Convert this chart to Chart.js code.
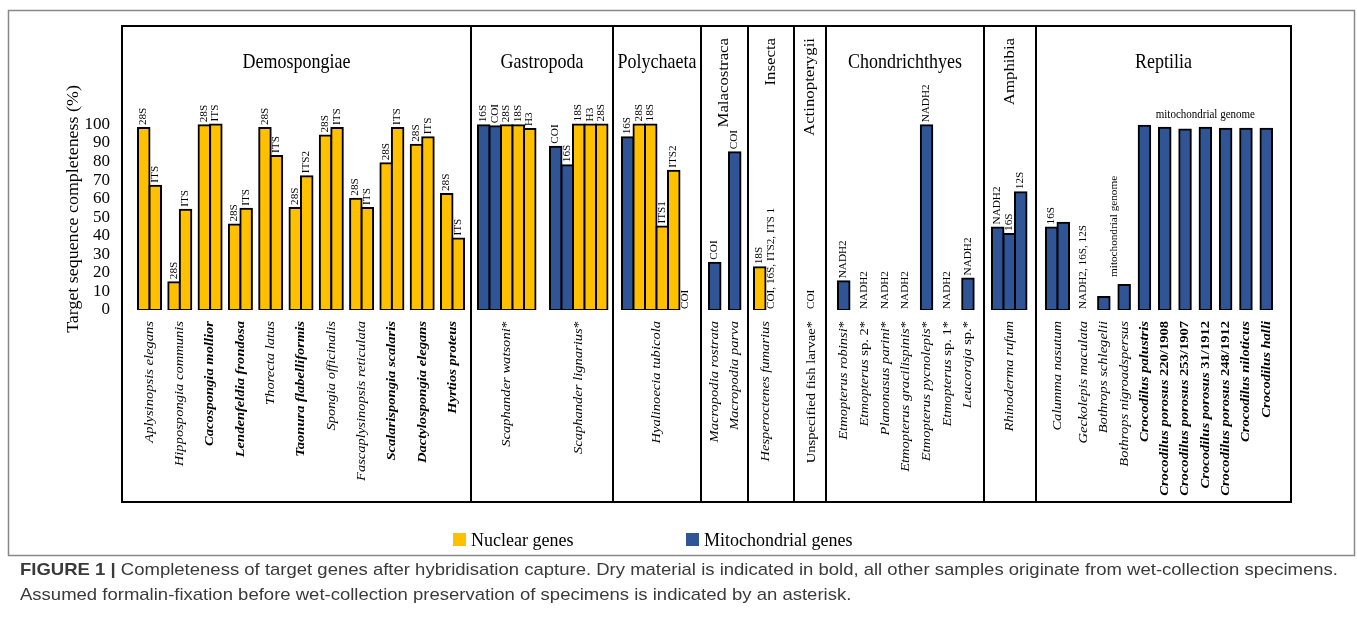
<!DOCTYPE html>
<html>
<head>
<meta charset="utf-8">
<script src="https://cdn.jsdelivr.net/npm/chart.js@4.4.1/dist/chart.umd.min.js"></script>
<style>
  html, body { margin: 0; padding: 0; background: #fff; }
  #wrap { width: 1357px; height: 635px; position: relative; }
</style>
</head>
<body>
<div id="wrap"><canvas id="fig" width="1357" height="635"></canvas></div>
<script>
const NUCLEAR = '#FFC000';
const MITO = '#2F5597';

const yTicks = [0, 10, 20, 30, 40, 50, 60, 70, 80, 90, 100];

const groupNames = ['Demospongiae', 'Gastropoda', 'Polychaeta', 'Malacostraca', 'Insecta',
  'Actinopterygii', 'Chondrichthyes', 'Amphibia', 'Reptilia'];

const speciesNames = [
  'Aplysinopsis elegans', 'Hippospongia communis', 'Cacospongia mollior', 'Lendenfeldia frondosa',
  'Thorecta latus', 'Taonura flabelliformis', 'Spongia officinalis', 'Fascaplysinopsis reticulata',
  'Scalarispongia scalaris', 'Dactylospongia elegans', 'Hyrtios proteus',
  'Scaphander watsoni', 'Scaphander lignarius',
  'Hyalinoecia tubicola',
  'Macropodia rostrata', 'Macropodia parva',
  'Hesperoctenes fumarius',
  'Unspecified fish larvae',
  'Etmopterus robinsi', 'Etmopterus sp. 2', 'Planonasus parini', 'Etmopterus gracilispinis',
  'Etmopterus pycnolepis', 'Etmopterus sp. 1', 'Leucoraja sp.',
  'Rhinoderma rufum',
  'Calumma nasutum', 'Geckolepis maculata', 'Bothrops schlegelii', 'Bothrops nigroadspersus',
  'Crocodilus palustris', 'Crocodilus porosus 220/1908', 'Crocodilus porosus 253/1907',
  'Crocodilus porosus 31/1912', 'Crocodilus porosus 248/1912', 'Crocodilus niloticus', 'Crocodilus halli'
];
const speciesGroup = [0,0,0,0,0,0,0,0,0,0,0, 1,1, 2, 3,3, 4, 5, 6,6,6,6,6,6,6, 7, 8,8,8,8,8,8,8,8,8,8,8];

const geneLabels = [
  ['28S','ITS'], ['28S','ITS'], ['28S','ITS'], ['28S','ITS'], ['28S','ITS'], ['28S','ITS2'],
  ['28S','ITS'], ['28S','ITS'], ['28S','ITS'], ['28S','ITS'], ['28S','ITS'],
  ['16S','COI','28S','18S','H3'], ['COI','16S','18S','H3','28S'],
  ['16S','28S','18S','ITS1','ITS2','COI'],
  ['COI'], ['COI'],
  ['18S','COI, 16S, ITS2, ITS 1'],
  ['COI'],
  ['NADH2'], ['NADH2'], ['NADH2'], ['NADH2'], ['NADH2'], ['NADH2'], ['NADH2'],
  ['NADH2','16S','12S'],
  ['16S',''], ['NADH2, 16S, 12S'], [''], [''], [''], [''], [''], [''], [''], [''], ['']
];
const geneValues = [
  [98, 67], [15, 54], [99.5, 100], [46, 54.5], [98, 83], [55, 72],
  [94, 98], [60, 55], [79, 98], [89, 93], [62.5, 38.5],
  [99.5, 99, 99.5, 99.5, 97.5], [88, 78, 100, 100, 100],
  [93, 100, 100, 45, 75, 0],
  [25.5], [85],
  [23, 0],
  [0],
  [15.5], [0], [0], [0], [99.5], [0], [17],
  [44.5, 41, 63.5],
  [44.5, 47], [0], [7], [13.5], [99.3], [98.2], [97.2], [98.2], [97.7], [97.7], [97.7]
];
// n = nuclear gene, m = mitochondrial gene
const geneKinds = [
  ['n','n'], ['n','n'], ['n','n'], ['n','n'], ['n','n'], ['n','n'],
  ['n','n'], ['n','n'], ['n','n'], ['n','n'], ['n','n'],
  ['m','m','n','n','n'], ['m','m','n','n','n'],
  ['m','n','n','n','n','m'],
  ['m'], ['m'],
  ['n','m'],
  ['m'],
  ['m'], ['m'], ['m'], ['m'], ['m'], ['m'], ['m'],
  ['m','m','m'],
  ['m','m'], ['m'], ['m'], ['m'], ['m'], ['m'], ['m'], ['m'], ['m'], ['m'], ['m']
];
// dry material (shown in bold)
const dryMaterial = [false,false,true,true,false,true,false,false,true,true,true,
  false,false, false, false,false, false, false,
  false,false,false,false,false,false,false, false,
  false,false,false,false,true,true,true,true,true,true,true];
// assumed formalin fixation (asterisk)
const formalinFixed = [false,false,false,false,false,false,false,false,false,false,false,
  true,true, false, false,false, false, true,
  true,true,true,true,true,true,true, false,
  false,false,false,false,false,false,false,false,false,false,false];
const informalNames = ['Unspecified fish larvae'];
const sharedLabels = [
  { text: 'mitochondrial genome', from: 'Bothrops schlegelii', to: 'Bothrops nigroadspersus' },
  { text: 'mitochondrial genome', from: 'Crocodilus palustris', to: 'Crocodilus halli' }
];

// layout along the x axis (1 unit = 1 px)
const BAR = 11.5;
const groupWidth = [349, 142, 88, 47, 46, 32, 158, 52, 255];
const groupPad = [16, 7, 9, 8, 6, 12, 12, 8, 10];
const speciesGap = [7.3, 14.5, 0, 8.5, 0, 0, 9.2, 0, 8.8];
const verticalTitle = [false, false, false, true, true, true, false, true, false];
const STRETCH = 1.12;
const SERIF = '"Liberation Serif", "Times New Roman", serif';

const groupStart = [];
let acc = 0;
groupWidth.forEach(w => { groupStart.push(acc); acc += w; });
const cursor = groupStart.map((s, i) => s + groupPad[i]);
const slotX = [];
const speciesX = [];
speciesNames.forEach((name, s) => {
  const g = speciesGroup[s];
  const xs = geneLabels[s].map((_, j) => cursor[g] + (j + 0.5) * BAR);
  slotX.push(xs);
  speciesX.push((xs[0] + xs[xs.length - 1]) / 2);
  cursor[g] += geneLabels[s].length * BAR + speciesGap[g];
});

function seriesFor(kind){
  const pts = [];
  speciesNames.forEach((_, s) => {
    geneValues[s].forEach((v, j) => {
      if(geneKinds[s][j] === kind && v > 0) pts.push({ x: slotX[s][j], y: v });
    });
  });
  return pts;
}

function drawText(c, str, x, y, font, align, baseline, vertical){
  c.save();
  c.translate(x, y);
  c.scale(1, STRETCH);
  if(vertical) c.rotate(-Math.PI / 2);
  c.font = font;
  c.textAlign = align;
  c.textBaseline = baseline;
  c.fillStyle = '#000';
  c.fillText(str, 0, 0);
  c.restore();
}

function speciesSegments(s){
  const name = speciesNames[s];
  const informal = informalNames.includes(name);
  const segs = [];
  name.split(' ').forEach((w, i) => {
    const upright = informal || /^(sp\.|[\d\/]+)$/.test(w);
    segs.push({ text: (i ? ' ' : '') + w, italic: !upright });
  });
  if(formalinFixed[s]) segs.push({ text: '*', italic: false });
  return segs;
}

const decor = {
  id: 'decor',
  beforeDraw(chart){
    const c = chart.ctx;
    c.save();
    c.fillStyle = '#fff';
    c.fillRect(0, 0, chart.width, chart.height);
    c.restore();
  },
  afterDraw(chart){
    const c = chart.ctx;
    const xs = chart.scales.x, ys = chart.scales.y;
    const px = v => xs.getPixelForValue(v);
    const py = v => ys.getPixelForValue(v);
    const top = chart.chartArea.top;
    const boxBottom = 502;

    // outer frame
    c.save();
    c.strokeStyle = '#888';
    c.lineWidth = 1.5;
    c.strokeRect(8.5, 10.5, 1346, 545);
    c.restore();

    // group boxes and titles
    groupNames.forEach((g, i) => {
      const x0 = px(groupStart[i]), x1 = px(groupStart[i] + groupWidth[i]);
      c.save();
      c.strokeStyle = '#000';
      c.lineWidth = 2;
      c.strokeRect(x0, top, x1 - x0, boxBottom - top);
      c.restore();
      const cx = (x0 + x1) / 2;
      if(verticalTitle[i]) drawText(c, g, cx, 38, '15px ' + SERIF, 'right', 'middle', true);
      else drawText(c, g, cx, 68, '18px ' + SERIF, 'center', 'alphabetic', false);
    });

    // gene labels
    speciesNames.forEach((_, s) => {
      geneLabels[s].forEach((lab, j) => {
        if(!lab) return;
        const v = geneValues[s][j];
        const y0 = v > 0 ? py(v) - 3 : py(0) - 1;
        drawText(c, lab, px(slotX[s][j]), y0, '10px ' + SERIF, 'left', 'middle', true);
      });
    });

    // labels shared by several species
    sharedLabels.forEach(L => {
      const a = speciesNames.indexOf(L.from), b = speciesNames.indexOf(L.to);
      const cx = (px(speciesX[a]) + px(speciesX[b])) / 2;
      let maxV = 0;
      for(let s = a; s <= b; s++) maxV = Math.max(maxV, ...geneValues[s]);
      c.save();
      c.font = '11px ' + SERIF;
      const w = c.measureText(L.text).width;
      c.restore();
      const vertical = px(speciesX[b]) - px(speciesX[a]) < w;
      if(vertical) drawText(c, L.text, cx, py(maxV) - 8, '10px ' + SERIF, 'left', 'middle', true);
      else drawText(c, L.text, cx, py(maxV) - 8, '11px ' + SERIF, 'center', 'alphabetic', false);
    });

    // species labels
    speciesNames.forEach((_, s) => {
      const segs = speciesSegments(s);
      const weight = dryMaterial[s] ? 'bold ' : '';
      c.save();
      c.translate(px(speciesX[s]), 321);
      c.scale(1, STRETCH);
      c.rotate(-Math.PI / 2);
      c.textAlign = 'left';
      c.textBaseline = 'middle';
      c.fillStyle = '#000';
      const fonts = segs.map(g => (g.italic ? 'italic ' : '') + weight + '13px ' + SERIF);
      let total = 0;
      segs.forEach((g, k) => { c.font = fonts[k]; total += c.measureText(g.text).width; });
      let pos = -total;
      segs.forEach((g, k) => {
        c.font = fonts[k];
        c.fillText(g.text, pos, 0);
        pos += c.measureText(g.text).width;
      });
      c.restore();
    });

    // y axis title
    drawText(c, 'Target sequence completeness (%)', 74, 209, '16px ' + SERIF, 'center', 'middle', true);

    // legend
    const legendX = [453, 686];
    chart.data.datasets.forEach((ds, i) => {
      c.save();
      c.fillStyle = ds.backgroundColor;
      c.fillRect(legendX[i], 533, 13, 13);
      c.fillStyle = '#000';
      c.font = '18px ' + SERIF;
      c.textBaseline = 'alphabetic';
      c.fillText(ds.label, legendX[i] + 18, 546);
      c.restore();
    });

    // caption
    const SANS = '"Liberation Sans", Arial, sans-serif';
    const head = 'FIGURE 1 | ';
    const line1 = 'Completeness of target genes after hybridisation capture. Dry material is indicated in bold, all other samples originate from wet-collection specimens.';
    const line2 = 'Assumed formalin-fixation before wet-collection preservation of specimens is indicated by an asterisk.';
    c.save();
    c.fillStyle = '#3a3a3a';
    c.textBaseline = 'alphabetic';
    c.font = 'bold 17px ' + SANS;
    const wHead = c.measureText(head).width;
    c.font = '17px ' + SANS;
    const wLine = c.measureText(line1).width;
    const sx = 1318 / (wHead + wLine);
    c.translate(20, 0);
    c.scale(sx, 1);
    c.font = 'bold 17px ' + SANS;
    c.fillText(head, 0, 575);
    c.font = '17px ' + SANS;
    c.fillText(line1, wHead, 575);
    c.fillText(line2, 0, 600);
    c.restore();
  }
};

new Chart(document.getElementById('fig'), {
  type: 'bar',
  data: {
    datasets: [
      { label: 'Nuclear genes', data: seriesFor('n'), backgroundColor: NUCLEAR },
      { label: 'Mitochondrial genes', data: seriesFor('m'), backgroundColor: MITO }
    ]
  },
  options: {
    responsive: false,
    animation: false,
    layout: { padding: { left: 0, top: 26, right: 66, bottom: 325 } },
    datasets: {
      bar: {
        grouped: false,
        categoryPercentage: 1,
        barPercentage: 1,
        borderColor: '#000',
        borderWidth: 2,
        borderSkipped: false,
        inflateAmount: 1
      }
    },
    scales: {
      x: { type: 'linear', min: 0, max: 1169, offset: false, display: false },
      y: {
        min: 0,
        max: 153,
        afterFit: s => { s.width = 122; },
        afterBuildTicks: s => { s.ticks = yTicks.map(v => ({ value: v })); },
        grid: { display: false, drawTicks: false },
        border: { display: false },
        ticks: { padding: 12, color: '#000', font: { family: 'Liberation Serif', size: 17 } }
      }
    },
    plugins: { legend: { display: false }, tooltip: { enabled: false } }
  },
  plugins: [decor]
});
</script>
</body>
</html>
